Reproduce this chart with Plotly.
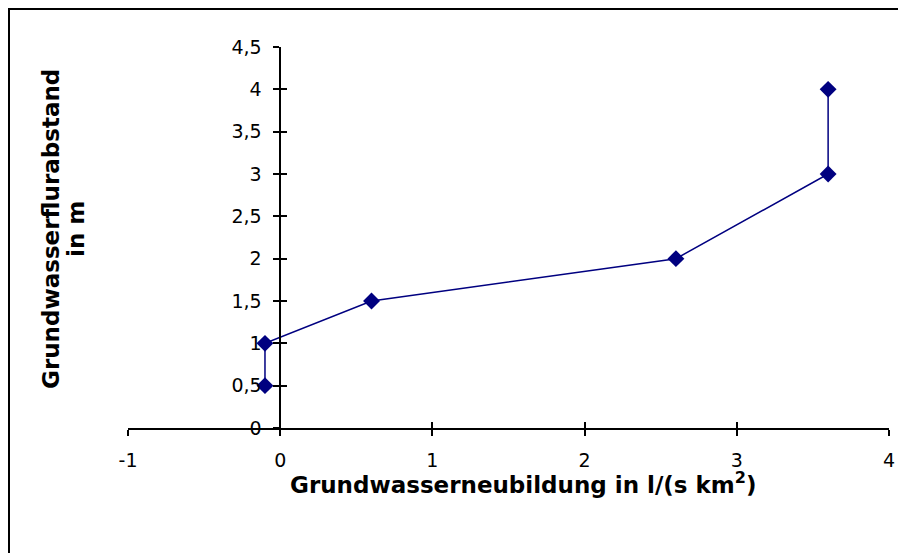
import plotly.graph_objects as go

# Data
recharge = [-0.1, -0.1, 0.6, 2.6, 3.6, 3.6]          # Grundwasserneubildung in l/(s km²)
depth = [0.5, 1.0, 1.5, 2.0, 3.0, 4.0]               # Grundwasserflurabstand in m
x_tick_vals = [-1, 0, 1, 2, 3, 4]
x_tick_text = ["-1", "0", "1", "2", "3", "4"]
y_tick_vals = [0, 0.5, 1, 1.5, 2, 2.5, 3, 3.5, 4, 4.5]
y_tick_text = ["0", "0,5", "1", "1,5", "2", "2,5", "3", "3,5", "4", "4,5"]

OFF = 8  # default page body margin
W, H = 906 - OFF, 553 - OFF
# plot area in page pixels: x 128..889, y 47..428
L, R, T, B = 128 - OFF, W - (889 - OFF), 47 - OFF, H - (428 - OFF)
pw, ph = W - L - R, H - T - B

def px(xpage):
    return (xpage - OFF - L) / pw

def py(ypage):
    return (H - B - (ypage - OFF)) / ph

FONT = "DejaVu Sans, Arial, sans-serif"
NAVY = "#000080"

fig = go.Figure()
fig.add_trace(go.Scatter(
    x=recharge, y=depth, mode="lines+markers",
    line=dict(color=NAVY, width=1.5),
    marker=dict(symbol="diamond", size=13, color=NAVY),
    showlegend=False, hoverinfo="x+y",
))
# empty traces to activate the overlay axes (crossing tick marks)
fig.add_trace(go.Scatter(x=[None], y=[None], xaxis="x2", yaxis="y", showlegend=False))
fig.add_trace(go.Scatter(x=[None], y=[None], xaxis="x", yaxis="y2", showlegend=False))

tickfont = dict(family=FONT, size=19, color="black")
yaxis_pos = (0 - (-1)) / (4 - (-1))

fig.update_layout(
    width=W, height=H,
    margin=dict(l=L, r=R, t=T, b=B, pad=0),
    paper_bgcolor="white", plot_bgcolor="white",
    xaxis=dict(range=[-1, 4], tickvals=x_tick_vals, ticktext=x_tick_text,
               showgrid=False, zeroline=False, showline=True, linecolor="black",
               linewidth=1.5, ticks="outside", ticklen=6, tickwidth=1.5,
               tickcolor="black", tickfont=tickfont, ticklabelstandoff=8),
    xaxis2=dict(range=[-1, 4], overlaying="x", anchor="y", tickvals=x_tick_vals,
                showgrid=False, zeroline=False, showline=False, ticks="inside",
                ticklen=6, tickwidth=1.5, tickcolor="black", showticklabels=False),
    yaxis=dict(range=[0, 4.5], tickvals=y_tick_vals, ticktext=y_tick_text,
               anchor="free", position=yaxis_pos,
               showgrid=False, zeroline=False, showline=True, linecolor="black",
               linewidth=1.5, ticks="outside", ticklen=6, tickwidth=1.5,
               tickcolor="black", tickfont=tickfont, ticklabelstandoff=8),
    yaxis2=dict(range=[0, 4.5], overlaying="y", anchor="free", position=yaxis_pos,
                tickvals=y_tick_vals, showgrid=False, zeroline=False, showline=False,
                ticks="inside", ticklen=6, tickwidth=1.5, tickcolor="black",
                showticklabels=False),
    annotations=[
        dict(text="Grundwasserneubildung in l/(s km<sup>2</sup>)",
             xref="paper", yref="paper", x=px(523), y=py(483),
             showarrow=False, xanchor="center", yanchor="middle",
             font=dict(family=FONT, size=23, color="black", weight="bold")),
        dict(text="Grundwasserflurabstand", textangle=-90,
             xref="paper", yref="paper", x=px(51), y=py(229),
             showarrow=False, xanchor="center", yanchor="middle",
             font=dict(family=FONT, size=23, color="black", weight="bold")),
        dict(text="in m", textangle=-90,
             xref="paper", yref="paper", x=px(76), y=py(229),
             showarrow=False, xanchor="center", yanchor="middle",
             font=dict(family=FONT, size=23, color="black", weight="bold")),
    ],
    shapes=[dict(type="rect", xref="paper", yref="paper",
                 x0=px(OFF + 1), x1=px(906 + 20), y0=py(OFF + 1), y1=py(553 + 20),
                 line=dict(color="black", width=2), fillcolor="rgba(0,0,0,0)",
                 layer="below")],
)

fig.write_html("out.html")
